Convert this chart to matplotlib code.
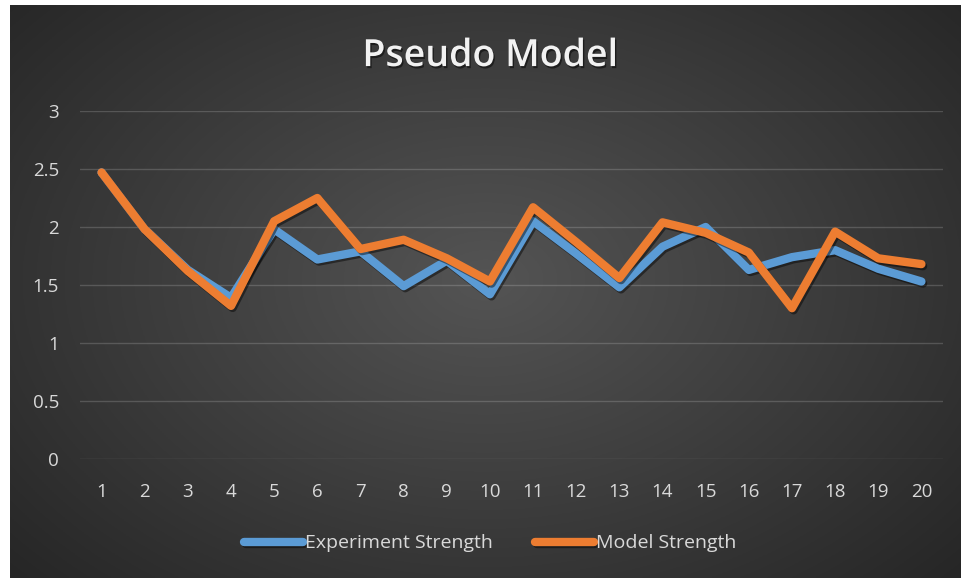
import numpy as np
import matplotlib
matplotlib.use("Agg")
import matplotlib.pyplot as plt
import matplotlib.patheffects as pe

# data
samples = list(range(1, 21))
experiment = [2.47, 1.98, 1.63, 1.39, 1.98, 1.72, 1.79, 1.49, 1.71, 1.42,
              2.05, 1.77, 1.48, 1.83, 2.00, 1.63, 1.74, 1.80, 1.64, 1.53]
model = [2.47, 1.98, 1.62, 1.32, 2.05, 2.25, 1.81, 1.89, 1.73, 1.53,
         2.17, 1.87, 1.56, 2.04, 1.95, 1.78, 1.30, 1.96, 1.73, 1.68]

plt.rcParams['font.family'] = ['Open Sans', 'DejaVu Sans']

fig = plt.figure(figsize=(9.61, 5.78), dpi=100)
fig.patch.set_facecolor('white')

# radial gradient background (white strip left/top like the screenshot)
bg = fig.add_axes([10 / 961, 0, 951 / 961, 573 / 578])
bg.set_axis_off()
yy, xx = np.mgrid[0:1:300j, 0:1:500j]
r = np.sqrt(((xx - 0.5) / 0.75) ** 2 + ((yy - 0.48) / 0.85) ** 2)
shade = np.clip(0.33 - 0.2 * r, 0.14, 0.33)
bg.imshow(np.dstack([shade, shade, shade]), aspect='auto', extent=[0, 1, 0, 1])

ax = fig.add_axes([80 / 961, 119 / 578, 863 / 961, 348 / 578])
ax.set_facecolor('none')

shadow = [pe.SimpleLineShadow(offset=(1.2, -1.5), shadow_color='black', alpha=0.45), pe.Normal()]
ax.plot(samples, experiment, color='#5B9BD5', lw=6, solid_capstyle='round',
        solid_joinstyle='round', label='Experiment Strength', path_effects=shadow, zorder=3)
ax.plot(samples, model, color='#ED7D31', lw=6, solid_capstyle='round',
        solid_joinstyle='round', label='Model Strength', path_effects=shadow, zorder=4)

ax.set_xlim(0.5, 20.5)
ax.set_ylim(0, 3)
ax.set_xticks(samples)
ax.set_yticks([0, 0.5, 1, 1.5, 2, 2.5, 3])
ax.set_yticklabels(['0', '0.5', '1', '1.5', '2', '2.5', '3'])
ax.grid(axis='y', color='white', alpha=0.17, lw=1)
for s in ax.spines.values():
    s.set_visible(False)
ax.tick_params(length=0, colors='#d9d9d9', labelsize=13.5)
ax.tick_params(axis='y', pad=15)
ax.tick_params(axis='x', pad=17)

fig.text(0.51, 0.903, 'Pseudo Model', ha='center', va='center', fontsize=27,
         fontweight='semibold', color='#f2f2f2',
         path_effects=[pe.withSimplePatchShadow(offset=(1, -1.5), shadow_rgbFace='black', alpha=0.5)])

leg = fig.legend(loc='center', bbox_to_anchor=(0.51, 0.06), ncol=2, frameon=False,
                 fontsize=14, handlelength=3.0, handletextpad=0.1, columnspacing=2.2)
for t in leg.get_texts():
    t.set_color('#d9d9d9')

fig.savefig('out.png', dpi=100, facecolor=fig.get_facecolor())
